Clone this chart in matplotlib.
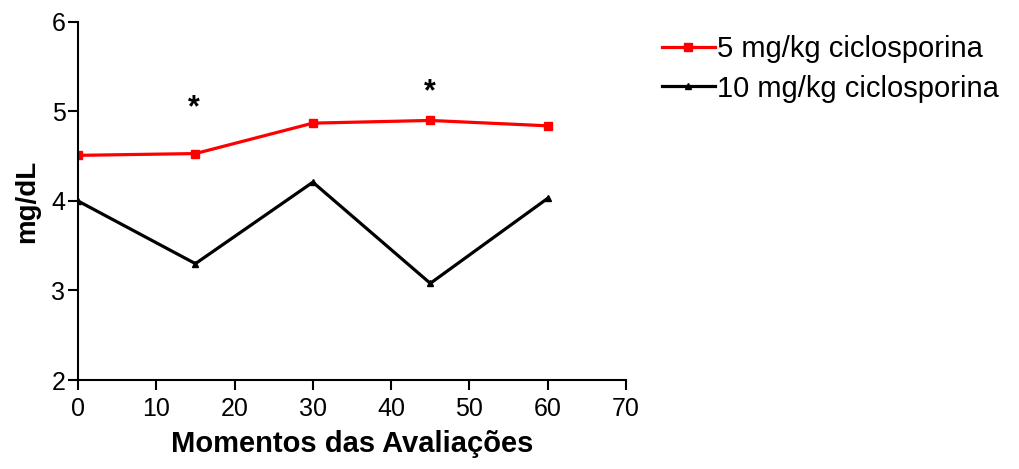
import matplotlib
matplotlib.use('Agg')
import matplotlib.pyplot as plt

plt.rcParams['font.family'] = ['Liberation Sans', 'DejaVu Sans']

# Evaluation moments (days) and mean values in mg/dL
momentos = [0, 15, 30, 45, 60]
dose_5 = [4.51, 4.53, 4.87, 4.90, 4.84]
dose_10 = [4.00, 3.30, 4.21, 3.08, 4.03]

# significance marks
sig_x = [14.8, 45]
sig_y = [5.04, 5.21]

fig = plt.figure(figsize=(10.19, 4.69), dpi=100)
ax = fig.add_axes([78/1019, 89/469, 548/1019, 358/469])

ax.plot(momentos, dose_5, color='#ff0000', lw=2.3, marker='s', ms=6,
        label='5 mg/kg ciclosporina')
ax.plot(momentos, dose_10, color='black', lw=2.3, marker='^', ms=5,
        label='10 mg/kg ciclosporina')

for x, y in zip(sig_x, sig_y):
    ax.text(x, y, '*', ha='center', va='center', fontsize=22, fontweight='bold')

ax.set_xlim(0, 70)
ax.set_ylim(2, 6)
ax.set_xticks(range(0, 71, 10))
ax.set_yticks([2, 3, 4, 5, 6])
ax.spines['top'].set_visible(False)
ax.spines['right'].set_visible(False)
for s in ('left', 'bottom'):
    ax.spines[s].set_linewidth(1.5)
ax.tick_params(direction='out', length=7.5, width=1.5, labelsize=18)
ax.tick_params(axis='x', pad=5)
ax.tick_params(axis='y', pad=1.5)

ax.set_xlabel('Momentos das Avaliações', fontsize=21, fontweight='bold', labelpad=6)
ax.set_ylabel('mg/dL', fontsize=20, fontweight='bold', labelpad=8)

ax.legend(loc='upper left', bbox_to_anchor=(584/548, 0.964), frameon=False,
          fontsize=21, handlelength=1.8, handletextpad=0.1, labelspacing=0.4,
          borderaxespad=0, borderpad=0)

fig.savefig('out.png')
